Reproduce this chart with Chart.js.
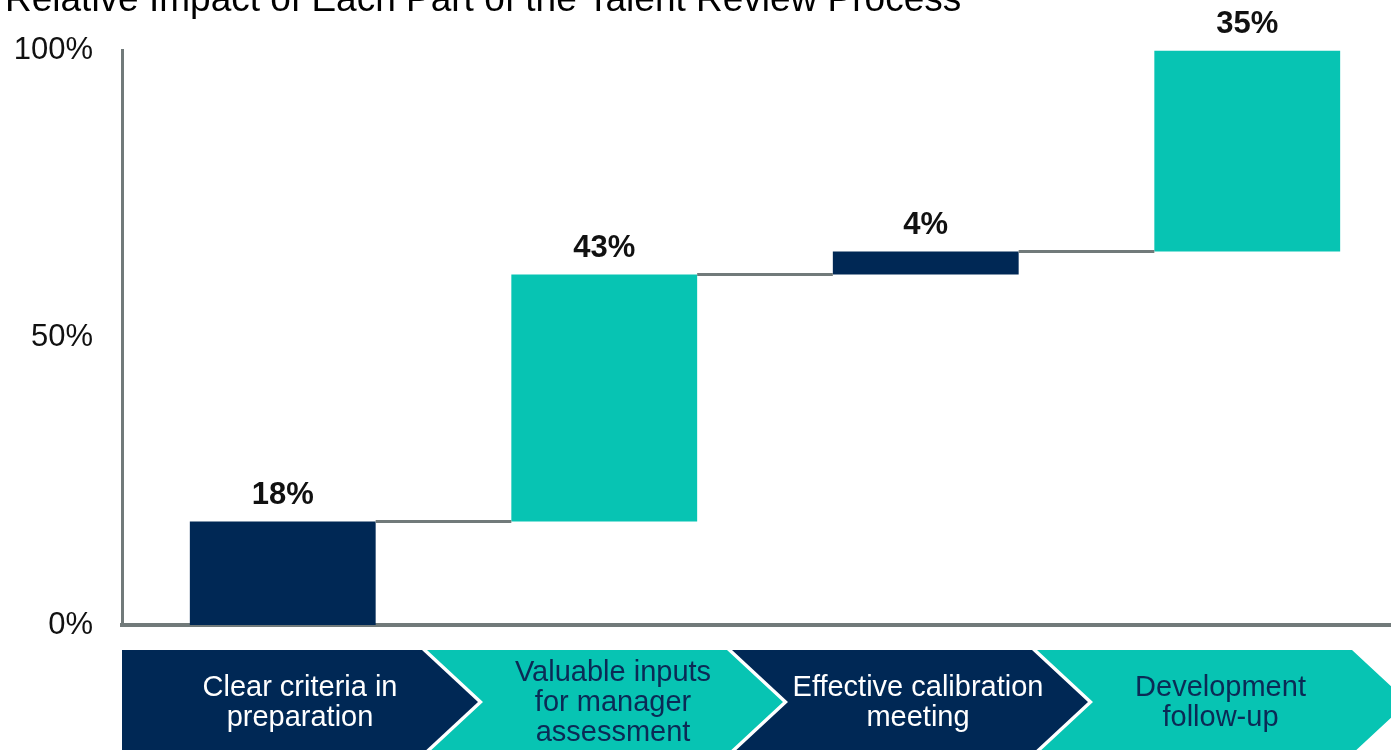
<!DOCTYPE html>
<html>
<head>
<meta charset="utf-8">
<script src="https://cdn.jsdelivr.net/npm/chart.js@4"></script>
<style>
  html, body { margin: 0; padding: 0; background: #fff; overflow: hidden; width: 1391px; height: 750px; }
  #wrap { position: absolute; left: 0; top: -21px; width: 1420px; height: 771px; }
</style>
</head>
<body>
<div id="wrap"><canvas id="impactChart"></canvas></div>
<script>
// ---- data ----
const TITLE = 'Relative Impact of Each Part of the Talent Review Process';
const stepLabels = [
  ['Clear criteria in', 'preparation'],
  ['Valuable inputs', 'for manager', 'assessment'],
  ['Effective calibration', 'meeting'],
  ['Development', 'follow-up'],
];
const impacts = [18, 43, 4, 35];
const yTicks = [0, 50, 100];

// ---- styling ----
const NAVY = '#002855';
const TEAL = '#07c4b3';
const AXIS_GREY = '#717a7a';
const FONT = "'Liberation Sans', Arial, sans-serif";
const stepColors = [NAVY, TEAL, NAVY, TEAL];
const stepTextColors = ['#ffffff', '#0b2a55', '#ffffff', '#0b2a55'];

// waterfall: each step floats on top of the running total
const ranges = [];
let running = 0;
impacts.forEach(v => { ranges.push([running, running + v]); running += v; });

// grey connectors between consecutive bars at the running total
const connectorPlugin = {
  id: 'connectors',
  afterDatasetsDraw(chart) {
    const meta = chart.getDatasetMeta(0);
    const y = chart.scales.y;
    const { ctx } = chart;
    ctx.save();
    ctx.strokeStyle = AXIS_GREY;
    ctx.lineWidth = 3;
    for (let i = 0; i < meta.data.length - 1; i++) {
      const a = meta.data[i], b = meta.data[i + 1];
      const py = y.getPixelForValue(ranges[i][1]);
      ctx.beginPath();
      ctx.moveTo(a.x + a.width / 2, py);
      ctx.lineTo(b.x - b.width / 2, py);
      ctx.stroke();
    }
    ctx.restore();
  }
};

// bold % value above each bar
const valueLabelPlugin = {
  id: 'valueLabels',
  afterDatasetsDraw(chart) {
    const meta = chart.getDatasetMeta(0);
    const { ctx } = chart;
    ctx.save();
    ctx.font = `bold 31px ${FONT}`;
    ctx.fillStyle = '#111';
    ctx.textAlign = 'center';
    ctx.textBaseline = 'middle';
    meta.data.forEach((el, i) => {
      const top = Math.min(el.y, el.base);
      ctx.fillText(`${impacts[i]}%`, el.x, top - 26);
    });
    ctx.restore();
  }
};

// process chevrons under the axis, one per step
const chevronPlugin = {
  id: 'chevrons',
  afterDraw(chart) {
    const { ctx, chartArea } = chart;
    const top = chartArea.bottom + 25;
    const h = 104, depth = 56, pitch = 305;
    const mid = top + h / 2;
    const last = stepLabels.length - 1;
    ctx.save();
    stepLabels.forEach((lines, i) => {
      const sx = chartArea.left + i * pitch;
      const ex = i === last ? sx + 315 : sx + 300;
      ctx.beginPath();
      ctx.moveTo(sx, top);
      ctx.lineTo(ex, top);
      ctx.lineTo(ex + depth, mid);
      ctx.lineTo(ex, top + h);
      ctx.lineTo(sx, top + h);
      if (i > 0) ctx.lineTo(sx + depth, mid);
      ctx.closePath();
      ctx.fillStyle = stepColors[i];
      ctx.fill();

      const cx = (sx + ex) / 2 + (i === 0 ? 28 : i === last ? 26 : 36);
      const lh = 30;
      ctx.font = `29px ${FONT}`;
      ctx.fillStyle = stepTextColors[i];
      ctx.textAlign = 'center';
      ctx.textBaseline = 'middle';
      lines.forEach((t, k) => {
        ctx.fillText(t, cx, mid + 1 + (k - (lines.length - 1) / 2) * lh);
      });
    });
    ctx.restore();
  }
};

new Chart(document.getElementById('impactChart'), {
  type: 'bar',
  data: {
    labels: stepLabels.map(l => l.join(' ')),
    datasets: [{
      data: ranges,
      backgroundColor: stepColors,
      borderWidth: 0,
      barPercentage: 0.578,
      categoryPercentage: 1,
    }]
  },
  options: {
    responsive: true,
    maintainAspectRatio: false,
    animation: false,
    devicePixelRatio: 1,
    layout: { padding: { left: 5, right: 12, top: 0, bottom: 125 } },
    plugins: {
      legend: { display: false },
      tooltip: { enabled: false },
      title: {
        display: true,
        text: TITLE,
        align: 'start',
        color: '#000',
        font: { family: FONT, size: 37, weight: 'normal' },
        padding: { top: 0, bottom: 27 },
      },
    },
    scales: {
      x: {
        grid: { display: false, drawTicks: false },
        ticks: { display: false },
        border: { display: true, color: AXIS_GREY, width: 4 },
        afterFit: s => { s.height = 0; },
      },
      y: {
        min: 0,
        max: 100,
        grid: { display: false, drawTicks: false },
        border: { display: true, color: AXIS_GREY, width: 3 },
        afterBuildTicks: s => { s.ticks = yTicks.map(v => ({ value: v })); },
        ticks: {
          padding: 29,
          color: '#111',
          font: { family: FONT, size: 31 },
          callback: v => `${v}%`,
        },
        afterFit: s => { s.width = 117; },
      },
    },
  },
  plugins: [connectorPlugin, valueLabelPlugin, chevronPlugin],
});
</script>
</body>
</html>
